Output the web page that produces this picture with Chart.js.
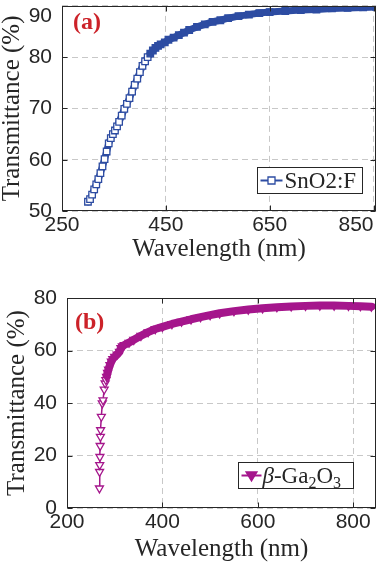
<!DOCTYPE html>
<html>
<head>
<meta charset="utf-8">
<script src="https://cdn.jsdelivr.net/npm/chart.js@4.4.1/dist/chart.umd.min.js"></script>
<style>
  html, body { margin: 0; padding: 0; background: #fff; }
  #wrap { position: relative; width: 382px; height: 562px; overflow: hidden; }
  .box { position: absolute; left: 0; }
  #boxA { top: 0; }
  #boxB { top: 280px; }
</style>
</head>
<body>
<div id="wrap">
  <div class="box" id="boxA"><canvas id="chartA" width="382" height="272"></canvas></div>
  <div class="box" id="boxB"><canvas id="chartB" width="382" height="282"></canvas></div>
</div>
<script>
// (a) SnO2:F
var wavelengthA = [300, 304, 308, 312, 316, 320, 324, 328, 332, 336,
    340, 344, 348, 352, 356, 360, 365, 370, 375, 380,
    385, 390, 395, 400, 405, 410, 415, 420, 425, 430,
    435, 440, 448, 455, 465, 475, 485, 495, 510, 525,
    540, 555, 570, 590, 610, 630, 650, 680, 710, 740,
    770, 800, 830, 855];
var transmittanceA = [51.8, 52.3, 53.2, 54.2, 55.2, 56.2, 57.4, 58.7, 60.1, 61.6,
    63.2, 64.2, 65.0, 65.7, 66.5, 67.4, 68.6, 69.9, 70.9, 72.0,
    73.3, 74.6, 75.8, 77.1, 78.3, 79.2, 80.0, 80.7, 81.3, 81.8,
    82.2, 82.5, 82.9, 83.4, 83.8, 84.3, 84.8, 85.3, 85.9, 86.4,
    86.9, 87.2, 87.6, 88.0, 88.3, 88.6, 88.8, 89.0, 89.2, 89.3,
    89.5, 89.6, 89.7, 89.8];
var xTicksA = [250, 450, 650, 850];
var yTicksA = [50, 60, 70, 80, 90];

// (b) beta-Ga2O3
var wavelengthB = [268, 268.3, 268.6, 269, 269.5, 270, 270.5, 272, 274, 275.5,
    278, 280, 281.5, 283, 285, 287, 290, 293, 296, 300,
    305, 310, 313, 316, 320, 330, 340, 355, 370, 385,
    400, 420, 440, 460, 480, 500, 520, 550, 580, 610,
    640, 670, 700, 730, 760, 790, 815, 838];
var transmittanceB = [7.5, 13.8, 16.4, 19.5, 23.7, 27.2, 29.7, 34.8, 39.9, 41.1,
    45.2, 47.5, 48.8, 50.0, 51.5, 52.8, 54.5, 55.8, 56.8, 57.6,
    58.5, 59.5, 61.0, 61.6, 62.1, 63.0, 64.1, 65.6, 67.0, 68.2,
    69.0, 70.1, 71.0, 71.9, 72.7, 73.5, 74.2, 75.0, 75.6, 76.1,
    76.5, 76.8, 77.0, 77.1, 77.1, 77.0, 76.9, 76.7];
var xTicksB = [200, 400, 600, 800];
var yTicksB = [0, 20, 40, 60, 80];

var blue = 'rgb(45, 76, 162)';
var magenta = 'rgb(165, 22, 140)';
var axisColor = '#262626';
var sansFont = 'Liberation Sans, Arial, sans-serif';
var serifFont = 'Liberation Serif, DejaVu Serif, serif';

function toPoints(xs, ys) {
    return xs.map(function (x, i) { return { x: x, y: ys[i] }; });
}

// box around the axes, inward ticks, panel letter and the legend
var framePlugin = {
    id: 'frame',
    afterDraw: function (chart, args, opts) {
        var ctx = chart.ctx;
        var area = chart.chartArea;
        var xScale = chart.scales.x;
        var yScale = chart.scales.y;
        var left = Math.round(area.left) + 0.5;
        var right = Math.round(area.right) - 0.5;
        var top = Math.round(area.top) + 0.5;
        var bottom = Math.round(area.bottom) - 0.5;

        ctx.save();
        ctx.strokeStyle = axisColor;
        ctx.lineWidth = 1;
        ctx.beginPath();
        xScale.ticks.forEach(function (t) {
            var px = Math.round(xScale.getPixelForValue(t.value)) + 0.5;
            ctx.moveTo(px, bottom); ctx.lineTo(px, bottom - 5);
            ctx.moveTo(px, top); ctx.lineTo(px, top + 5);
        });
        yScale.ticks.forEach(function (t) {
            var py = Math.round(yScale.getPixelForValue(t.value)) + 0.5;
            ctx.moveTo(left, py); ctx.lineTo(left + 5, py);
            ctx.moveTo(right, py); ctx.lineTo(right - 5, py);
        });
        ctx.stroke();
        ctx.strokeRect(left, top, right - left, bottom - top);

        ctx.fillStyle = '#cc2229';
        ctx.font = 'bold 24px ' + serifFont;
        ctx.textAlign = 'left';
        ctx.textBaseline = 'middle';
        ctx.fillText(opts.panel, area.left + opts.panelDx, area.top + opts.panelDy);

        var lg = opts.legend;
        var ds = chart.data.datasets[0];
        var bx = Math.round(area.right - lg.right - lg.width) + 0.5;
        var by = Math.round(area.bottom - lg.bottom - lg.height) + 0.5;
        var my = by + lg.height / 2;
        ctx.fillStyle = '#fff';
        ctx.fillRect(bx, by, lg.width, lg.height);
        ctx.strokeStyle = axisColor;
        ctx.lineWidth = 1;
        ctx.strokeRect(bx, by, lg.width, lg.height);

        ctx.strokeStyle = ds.borderColor;
        ctx.lineWidth = 2;
        ctx.beginPath();
        ctx.moveTo(bx + 3, my);
        ctx.lineTo(bx + 3 + lg.sample, my);
        ctx.stroke();
        var cx = bx + 3 + lg.sample / 2;
        ctx.lineWidth = 1.3;
        ctx.beginPath();
        if (ds.pointStyle === 'rect') {
            ctx.rect(cx - 3.5, my - 3.5, 7, 7);
            ctx.fillStyle = '#fff';
        } else {
            ctx.moveTo(cx - 5.5, my - 3.5);
            ctx.lineTo(cx + 5.5, my - 3.5);
            ctx.lineTo(cx, my + 5.5);
            ctx.closePath();
            ctx.fillStyle = ds.borderColor;
        }
        ctx.fill();
        ctx.stroke();

        ctx.fillStyle = axisColor;
        ctx.textBaseline = 'alphabetic';
        var tx = bx + lg.textDx;
        var ty = my + 7;
        lg.runs.forEach(function (r) {
            var size = r.sub ? Math.round(lg.size * 0.7) : lg.size;
            ctx.font = (r.italic ? 'italic ' : '') + size + 'px ' + serifFont;
            ctx.fillText(r.text, tx, ty + (r.sub ? 5 : 0));
            tx += ctx.measureText(r.text).width;
        });
        ctx.restore();
    }
};

function buildChart(canvasId, cfg) {
    var ctx = document.getElementById(canvasId).getContext('2d');
    return new Chart(ctx, {
        type: 'line',
        data: {
            datasets: [{
                label: cfg.label,
                data: toPoints(cfg.xs, cfg.ys),
                borderColor: cfg.color,
                borderWidth: cfg.lineWidth,
                borderCapStyle: 'round',
                borderJoinStyle: 'round',
                segment: cfg.segment,
                pointStyle: cfg.pointStyle,
                rotation: cfg.pointRotation,
                pointRadius: cfg.pointRadius,
                pointBorderWidth: 1.3,
                pointBorderColor: cfg.color,
                pointBackgroundColor: cfg.pointFill,
                tension: 0,
                clip: 0
            }]
        },
        options: {
            responsive: false,
            animation: false,
            events: [],
            layout: { padding: 0 },
            plugins: {
                legend: { display: false },
                tooltip: { enabled: false },
                frame: cfg.frame
            },
            scales: {
                x: {
                    type: 'linear',
                    min: cfg.xMin,
                    max: cfg.xMax,
                    afterBuildTicks: function (scale) {
                        scale.ticks = cfg.xTicks.map(function (v) { return { value: v }; });
                    },
                    afterFit: function (scale) {
                        scale.height = cfg.xHeight;
                        scale.paddingLeft = 0;
                        scale.paddingRight = cfg.rightPad;
                    },
                    grid: { color: '#c8c8c8', lineWidth: 1, drawTicks: false },
                    border: { display: false, dash: [6, 4] },
                    ticks: {
                        padding: 3.5,
                        autoSkip: false,
                        maxRotation: 0,
                        minRotation: 0,
                        color: axisColor,
                        font: { family: sansFont, size: 21, lineHeight: 1 },
                        callback: cfg.xLabel
                    },
                    title: {
                        display: true,
                        text: 'Wavelength (nm)',
                        color: axisColor,
                        font: { family: serifFont, size: 25, lineHeight: 1 },
                        padding: { top: 0, bottom: cfg.xTitlePad }
                    }
                },
                y: {
                    type: 'linear',
                    min: cfg.yMin,
                    max: cfg.yMax,
                    afterBuildTicks: function (scale) {
                        scale.ticks = cfg.yTicks.map(function (v) { return { value: v }; });
                    },
                    afterFit: function (scale) {
                        scale.width = cfg.yWidth;
                        scale.paddingTop = cfg.topPad;
                        scale.paddingBottom = 0;
                    },
                    grid: { color: '#c8c8c8', lineWidth: 1, drawTicks: false },
                    border: { display: false, dash: [6, 4] },
                    ticks: {
                        padding: 10,
                        color: axisColor,
                        font: { family: sansFont, size: 21, lineHeight: 1 },
                        callback: cfg.yLabel
                    },
                    title: {
                        display: true,
                        text: 'Transmittance (%)',
                        color: axisColor,
                        font: { family: serifFont, size: 25, lineHeight: 1 },
                        padding: { top: cfg.yTitlePad, bottom: 0 }
                    }
                }
            }
        },
        plugins: [framePlugin]
    });
}

buildChart('chartA', {
    label: 'SnO2:F',
    xs: wavelengthA,
    ys: transmittanceA,
    color: blue,
    lineWidth: 7,
    pointStyle: 'rect',
    pointRotation: 0,
    pointRadius: 4.6,
    pointFill: function (c) { return c.raw && c.raw.x < 420 ? '#fff' : blue; },
    xMin: 250, xMax: 855, xTicks: xTicksA,
    yMin: 50, yMax: 90, yTicks: yTicksA,
    xHeight: 61, rightPad: 1, yWidth: 62, topPad: 2,
    xTitlePad: 10, yTitlePad: 0,
    // last labels sit inside the frame, as in the figure
    xLabel: function (v) { return v === 850 ? '850\u00a0\u00a0\u00a0\u00a0\u00a0\u00a0' : String(v); },
    yLabel: function (v) { return v === 90 ? ['', '90'] : String(v); },
    frame: {
        panel: '(a)', panelDx: 11, panelDy: 17,
        legend: { right: 14, bottom: 18, width: 105, height: 26, sample: 22, textDx: 27, size: 23,
            runs: [{ text: 'SnO2:F' }] }
    }
});

buildChart('chartB', {
    label: 'β-Ga₂O₃',
    xs: wavelengthB,
    ys: transmittanceB,
    color: magenta,
    lineWidth: 8,
    segment: { borderWidth: function (c) { return c.p1.parsed.y <= 50.5 ? 1.5 : 8; } },
    pointStyle: 'triangle',
    pointRotation: 180,
    pointRadius: 4.6,
    pointFill: function (c) { return c.raw && c.raw.y < 50 ? '#fff' : magenta; },
    xMin: 200, xMax: 848, xTicks: xTicksB,
    yMin: 0, yMax: 80, yTicks: yTicksB,
    xHeight: 54, rightPad: 2, yWidth: 67, topPad: 18,
    xTitlePad: 0.5, yTitlePad: 4.5,
    xLabel: function (v) { return String(v); },
    yLabel: function (v) { return String(v); },
    frame: {
        panel: '(b)', panelDx: 8, panelDy: 25,
        legend: { right: 23, bottom: 20, width: 115, height: 26, sample: 20, textDx: 24, size: 23,
            runs: [{ text: 'β', italic: true }, { text: '-Ga' }, { text: '2', sub: true },
                { text: 'O' }, { text: '3', sub: true }] }
    }
});
</script>
</body>
</html>
